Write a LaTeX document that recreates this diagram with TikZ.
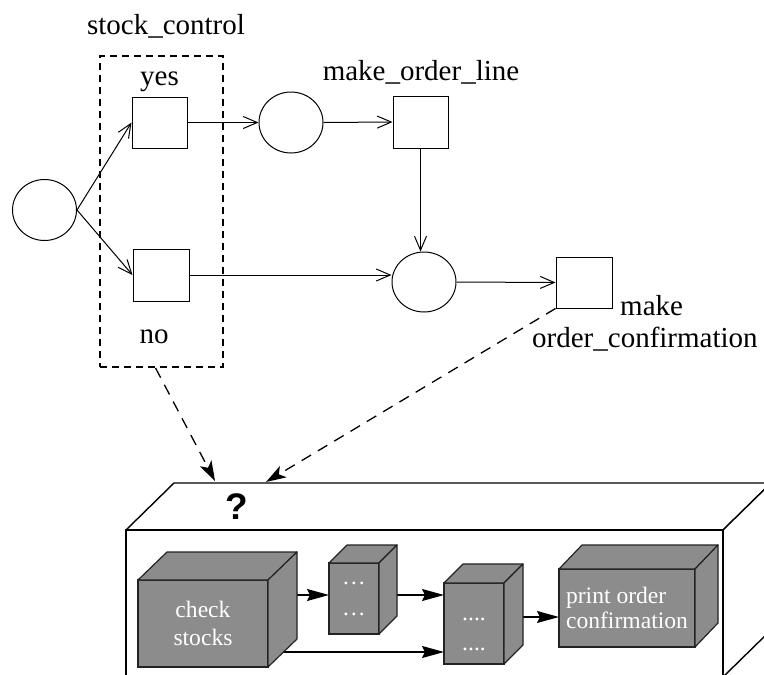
\documentclass[tikz,border=0pt]{standalone}
\usepackage{fontspec}
\setmainfont{Liberation Serif}
\newfontfamily\qmarkfont{Liberation Sans}
\usetikzlibrary{arrows.meta,shapes.geometric,calc}
\definecolor{cubegray}{RGB}{140,140,140}
\definecolor{cubeedge}{RGB}{35,35,35}
\pgfdeclarelayer{bottom}
\pgfdeclarelayer{under}
\pgfsetlayers{bottom,under,main}
\begin{document}
\begin{tikzpicture}[x=1pt,y=-1pt,
  place/.style={draw,ellipse,minimum width=64pt,minimum height=61pt,inner sep=0pt,line width=1pt},
  trans/.style={draw,rectangle,minimum width=55pt,minimum height=51pt,inner sep=0pt,line width=1pt},
  lbl/.style={font=\fontsize{29}{32}\selectfont,inner sep=0pt},
  flow/.style={line width=1pt,-{Straight Barb[length=14pt,width=12pt]}},
  group/.style={draw,line width=1.8pt,dash pattern=on 7pt off 5pt,minimum width=123pt,minimum height=311pt,inner sep=0pt},
  refine/.style={line width=1.3pt,dash pattern=on 11pt off 8pt,-{Stealth[length=20pt,width=13pt,inset=5pt]}},
  shell/.style={line width=1.4pt,fill=white,line join=round},
  cube/.style={draw=cubeedge,fill=cubegray,line width=1.2pt,text=white,inner sep=0pt,outer sep=0pt,align=center,font=\fontsize{23.6}{27}\selectfont},
  cubeface/.style={draw=cubeedge,fill=cubegray,line width=1.2pt,line join=round},
  push/.style={line width=1.4pt,-{Stealth[length=22pt,width=12pt,inset=3pt]}},
]
\useasboundingbox (0,0) rectangle (764,675);
\clip (0,0) rectangle (764,675);

% ---------- upper net ----------
\node[group] (scbox) at (161.5,211.5) {};
\node[lbl,anchor=base] (lsc) at (166,34) {stock\_control};
\node[lbl,anchor=base] (lyes) at (159.5,85) {yes};
\node[lbl,anchor=base] (lno) at (154,343) {no};
\node[lbl,anchor=base] (lmol) at (421,80) {make\_order\_line};
\node[lbl,anchor=base west] (lmake) at (620,315) {make};
\node[lbl,anchor=base west] (lconf) at (532,347) {order\_confirmation};

\node[place] (c0) at (44.5,210) {};
\node[trans] (yes) at (159.5,122.5) {};
\node[trans,minimum width=56pt,minimum height=52pt] (no) at (161,275) {};
\node[place] (c1) at (291,122.5) {};
\node[trans,minimum height=52pt] (mol) at (420.5,122) {};
\node[place,minimum height=60pt] (c2) at (424,282) {};
\node[trans,minimum width=56pt] (moc) at (584,282.5) {};

\draw[flow] (c0.east) -- (yes.west);
\draw[flow] (c0.east) -- (no.west);
\draw[flow] (yes.east) -- (c1.west);
\draw[flow] (c1.east) -- (mol.west);
\draw[flow] (mol.south) -- (mol.south |- c2.north);
\draw[flow] (no.east) -- (no.east -| c2.west);
\draw[flow] (c2.east) -- (moc.west);

% ---------- refinement box ----------
\begin{pgfonlayer}{bottom}
  \coordinate (ftl) at (126,530);
  \coordinate (ftr) at (723,530);
  \coordinate (fbr) at (723,677);
  \draw[shell] (ftl) -- ++(48,-47) -- ++(597,0) -- (ftr) -- cycle;
  \draw[shell] (ftr) -- ++(48,-47) -- ++(0,147) -- (fbr) -- cycle;
  \draw[shell] (ftl) rectangle (fbr);
\end{pgfonlayer}

\node[font=\qmarkfont\bfseries\fontsize{37}{40}\selectfont,inner sep=0pt] (q) at (236.5,506.5) {?};
\coordinate (tip1) at (215,481);
\coordinate (tip2) at (266,482);
\draw[refine] ([xshift=-6pt]scbox.south) -- (tip1);
\draw[refine] (moc.south west) -- (tip2);

% cubes
\node[cube,minimum width=130pt,minimum height=87pt,font=\fontsize{23.6}{28}\selectfont] (cs) at (203,623.5) {check\\stocks};
\draw[cubeface] (cs.north west) -- ++(29,-28) -- ++(130,0) -- (cs.north east) -- cycle;
\draw[cubeface] (cs.north east) -- ++(29,-28) -- ++(0,87) -- (cs.south east) -- cycle;

\node[cube,minimum width=50pt,minimum height=71pt,font=\fontsize{23.6}{27}\selectfont] (b1) at (354,598.5) {…\\[4pt]…};
\draw[cubeface] (b1.north west) -- ++(18,-18) -- ++(50,0) -- (b1.north east) -- cycle;
\draw[cubeface] (b1.north east) -- ++(18,-18) -- ++(0,71) -- (b1.south east) -- cycle;

\node[cube,minimum width=60pt,minimum height=81pt,font=\fontsize{23.6}{30}\selectfont] (b2) at (474,623.5) {\rule{0pt}{24pt}....\\....};
\draw[cubeface] (b2.north west) -- ++(19,-19) -- ++(60,0) -- (b2.north east) -- cycle;
\draw[cubeface] (b2.north east) -- ++(19,-19) -- ++(0,81) -- (b2.south east) -- cycle;

\node[cube,minimum width=136pt,minimum height=78pt,align=left,font=\fontsize{23.6}{25}\selectfont] (pr) at (627,608) {print order\\confirmation};
\draw[cubeface] (pr.north west) -- ++(23,-24) -- ++(136,0) -- (pr.north east) -- cycle;
\draw[cubeface] (pr.north east) -- ++(23,-24) -- ++(0,78) -- (pr.south east) -- cycle;

\coordinate (b1in) at ($(b1.west)+(0,-3.5)$);
\coordinate (b2top) at ($(b2.north west)+(0,12)$);
\coordinate (b2low) at ($(b2.south west)+(0,-12)$);
\coordinate (prin) at ($(pr.west)+(0,9)$);
\begin{pgfonlayer}{under}
  \draw[push] (cs.center |- b1in) -- (b1in);
  \draw[push] (cs.center |- b2low) -- (b2low);
  \draw[push] (b1.center |- b2top) -- (b2top);
  \draw[push] (b2.center |- prin) -- (prin);
\end{pgfonlayer}
\end{tikzpicture}
\end{document}
